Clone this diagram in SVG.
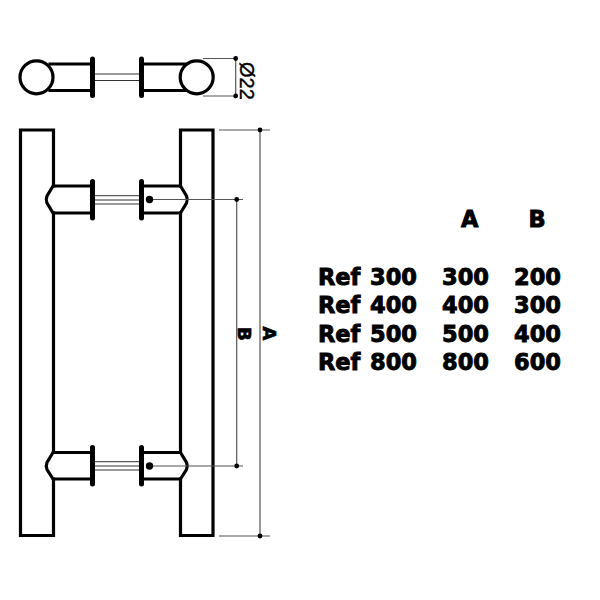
<svg xmlns="http://www.w3.org/2000/svg" width="600" height="600" viewBox="0 0 600 600">
<style>
.k{fill:none;stroke:#000;stroke-width:3.2;stroke-linecap:square;stroke-linejoin:miter}
.p{fill:none;stroke:#000;stroke-width:5;stroke-linecap:round}
.t{fill:none;stroke:#333;stroke-width:1}
.d{fill:none;stroke:#555;stroke-width:1.2}
.h{fill:#000;stroke:#000;stroke-width:.9px;font-family:"DejaVu Sans",sans-serif;font-weight:bold;font-size:22.5px}
.v{fill:#000;stroke:#000;stroke-width:.7px;font-family:"DejaVu Sans",sans-serif;font-weight:bold;font-size:18px}
.o{fill:#000;stroke:#000;stroke-width:.4px;font-family:"Liberation Sans",sans-serif;font-size:20px}
</style>
<rect width="600" height="600" fill="#fff"/>
<g id="top-view">
<path class="k" d="M50 64H92M50 90.500H92M142 64H185M142 90.500H185"/>
<path class="t" d="M94 74H140M94 80.500H140"/>
<path class="p" d="M92.500 59V95.500M141.500 59V95.500"/>
<circle class="k" cx="36.500" cy="77.300" r="16.500" style="fill:#fff"/>
<circle class="k" cx="196.700" cy="77.300" r="16.500" style="fill:#fff"/>
</g>
<g id="front-view">
<path class="k" d="M53.500 186V130H20.500V535.500H53.500V479M53.500 452V213"/>
<path class="k" d="M180.500 186V130H213V535.500H180.500V479M180.500 452V213"/>
<path class="k" d="M92 186H53L47 196Q45.500 199.500 47 203L53 213H92"/>
<path class="k" d="M142 186H180.500L186.500 196Q188 199.500 186.500 203L180.500 213H142"/>
<path class="k" d="M92 452.500H53L47 462.500Q45.500 466 47 469.500L53 479H92"/>
<path class="k" d="M142 452.500H180.500L186.500 462.500Q188 466 186.500 469.500L180.500 479H142"/>
<path class="t" d="M94 195.700H140M94 200H140M94 204H140M94 461.700H140M94 466H140M94 470H140"/>
<path class="p" d="M92.500 181.500V218M141.500 181.500V218M92.500 447.500V484M141.500 447.500V484"/>
</g>
<g id="connectors">
<path class="d" d="M203 58.500H236M203 96H236M235.700 58.500V96"/>
<path class="d" d="M219 130H270M219 536H270M260 130V536"/>
<path class="d" d="M149.500 199.500H243M149.500 466H243M236.700 199.500V466"/>
<g fill="#000">
<circle cx="235.700" cy="58.500" r="2.400"/><circle cx="235.700" cy="96" r="2.400"/>
<circle cx="260" cy="130" r="2.400"/><circle cx="260" cy="536" r="2.400"/>
<circle cx="236.700" cy="199.500" r="2.400"/><circle cx="236.700" cy="466" r="2.400"/>
<circle cx="149.500" cy="199.500" r="3.700"/><circle cx="149.500" cy="466" r="3.700"/>
</g>
</g>
<g id="dim-labels">
<text class="o" transform="translate(239.500 62) rotate(90)">Ø22</text>
<text class="v" transform="translate(263 326.500) rotate(90)">A</text>
<text class="v" transform="translate(237.500 327) rotate(90)">B</text>
</g>
<g id="table">
<text class="h" x="461" y="226.500">A</text><text class="h" x="528.500" y="226.500">B</text>
<text class="h" x="318" y="285">Ref</text><text class="h" x="370" y="285">300</text><text class="h" x="442" y="285">300</text><text class="h" x="514" y="285">200</text>
<text class="h" x="318" y="313">Ref</text><text class="h" x="370" y="313">400</text><text class="h" x="442" y="313">400</text><text class="h" x="514" y="313">300</text>
<text class="h" x="318" y="342">Ref</text><text class="h" x="370" y="342">500</text><text class="h" x="442" y="342">500</text><text class="h" x="514" y="342">400</text>
<text class="h" x="318" y="370">Ref</text><text class="h" x="370" y="370">800</text><text class="h" x="442" y="370">800</text><text class="h" x="514" y="370">600</text>
</g>
</svg>
